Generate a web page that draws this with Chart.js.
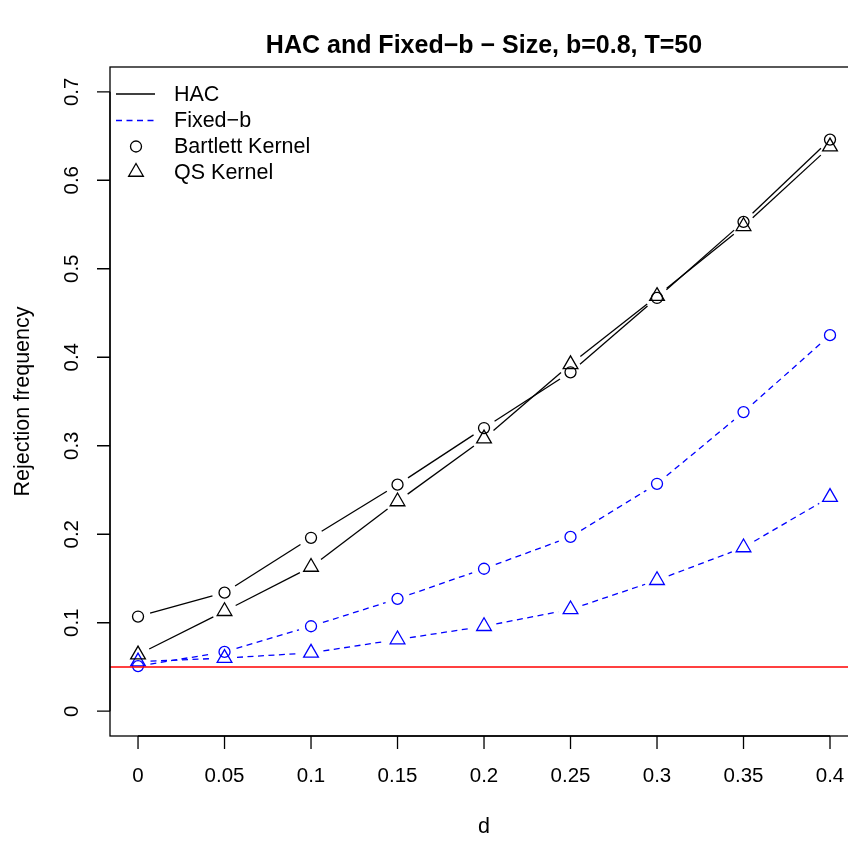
<!DOCTYPE html>
<html>
<head>
<meta charset="utf-8">
<script src="https://cdn.jsdelivr.net/npm/chart.js@4.4.1/dist/chart.umd.min.js"></script>
<style>
  html, body { margin: 0; padding: 0; background: #fff; overflow: hidden; }
  canvas { display: block; }
</style>
</head>
<body>
<canvas id="sizeChart" width="848" height="841"></canvas>
<script>
// values
const dValues = [0, 0.05, 0.1, 0.15, 0.2, 0.25, 0.3, 0.35, 0.4];
const xTickLabels = ["0", "0.05", "0.1", "0.15", "0.2", "0.25", "0.3", "0.35", "0.4"];
const yTicks = [0, 0.1, 0.2, 0.3, 0.4, 0.5, 0.6, 0.7];
const yTickLabels = ["0", "0.1", "0.2", "0.3", "0.4", "0.5", "0.6", "0.7"];

const hacBartlett   = [0.107, 0.134, 0.196, 0.256, 0.320, 0.383, 0.467, 0.553, 0.646];
const hacQS         = [0.064, 0.113, 0.163, 0.237, 0.308, 0.392, 0.469, 0.548, 0.638];
const fixedBartlett = [0.051, 0.067, 0.096, 0.127, 0.161, 0.197, 0.257, 0.338, 0.425];
const fixedQS       = [0.056, 0.060, 0.066, 0.081, 0.096, 0.115, 0.148, 0.185, 0.242];

const nominalSize = 0.05;

const FONT = "'Liberation Sans', Arial, Helvetica, sans-serif";
const BLUE = "#0000ff";
const DASH = [6, 4.5];

const toPoints = ys => dValues.map((d, i) => ({ x: d, y: ys[i] }));

function series(label, ys, color, style, radius, dash) {
    return {
        label: label,
        data: toPoints(ys),
        showLine: false,
        borderColor: color,
        backgroundColor: "transparent",
        pointStyle: style,
        pointRadius: radius,
        pointBorderWidth: 1.3,
        pointHoverRadius: radius,
        lineDash: dash // used by the gapped-lines plugin (R type="b")
    };
}

// lines between points with a gap around each marker, like R's type="b"
const gappedLines = {
    id: "gappedLines",
    beforeDatasetsDraw(chart) {
        const ctx = chart.ctx;
        const gap = 12.5;
        ctx.save();
        ctx.beginPath();
        ctx.rect(chart.chartArea.left, chart.chartArea.top,
                 chart.chartArea.right - chart.chartArea.left,
                 chart.chartArea.bottom - chart.chartArea.top);
        ctx.clip();
        chart.data.datasets.forEach((ds, i) => {
            const pts = chart.getDatasetMeta(i).data;
            ctx.strokeStyle = ds.borderColor;
            ctx.lineWidth = 1.3;
            for (let k = 0; k < pts.length - 1; k++) {
                const a = pts[k], b = pts[k + 1];
                const dx = b.x - a.x, dy = b.y - a.y;
                const len = Math.hypot(dx, dy);
                if (len <= 2 * gap) continue;
                const ux = dx / len, uy = dy / len;
                ctx.setLineDash(ds.lineDash || []);
                ctx.beginPath();
                ctx.moveTo(a.x + ux * gap, a.y + uy * gap);
                ctx.lineTo(b.x - ux * gap, b.y - uy * gap);
                ctx.stroke();
            }
        });
        ctx.restore();
    }
};

// base-graphics style frame, axes, labels, legend and the 0.05 line
const rDecor = {
    id: "rDecor",
    afterDatasetsDraw(chart) {
        const ctx = chart.ctx;
        const area = chart.chartArea;
        const xs = chart.scales.x, ys = chart.scales.y;
        ctx.save();

        // nominal size line
        const yRef = ys.getPixelForValue(nominalSize);
        ctx.strokeStyle = "#ff0000";
        ctx.lineWidth = 1.3;
        ctx.setLineDash([]);
        ctx.beginPath();
        ctx.moveTo(area.left, yRef);
        ctx.lineTo(area.right, yRef);
        ctx.stroke();

        // box (right side falls outside the canvas, as in the original)
        ctx.strokeStyle = "#000";
        ctx.lineWidth = 1.3;
        ctx.strokeRect(area.left, area.top, area.right + 10 - area.left, area.bottom - area.top);

        // x axis
        const tick = 13;
        ctx.beginPath();
        ctx.moveTo(xs.getPixelForValue(dValues[0]), area.bottom);
        ctx.lineTo(xs.getPixelForValue(dValues[dValues.length - 1]), area.bottom);
        dValues.forEach(v => {
            const px = xs.getPixelForValue(v);
            ctx.moveTo(px, area.bottom);
            ctx.lineTo(px, area.bottom + tick);
        });
        // y axis
        ctx.moveTo(area.left, ys.getPixelForValue(yTicks[0]));
        ctx.lineTo(area.left, ys.getPixelForValue(yTicks[yTicks.length - 1]));
        yTicks.forEach(v => {
            const py = ys.getPixelForValue(v);
            ctx.moveTo(area.left, py);
            ctx.lineTo(area.left - tick, py);
        });
        ctx.stroke();

        ctx.fillStyle = "#000";
        ctx.font = "20.5px " + FONT;
        ctx.textAlign = "center";
        ctx.textBaseline = "middle";
        dValues.forEach((v, i) => {
            ctx.fillText(xTickLabels[i], xs.getPixelForValue(v), area.bottom + 40);
        });
        yTicks.forEach((v, i) => {
            ctx.save();
            ctx.translate(area.left - 38, ys.getPixelForValue(v));
            ctx.rotate(-Math.PI / 2);
            ctx.fillText(yTickLabels[i], 0, 0);
            ctx.restore();
        });

        // axis titles
        const xMid = 484;
        ctx.font = "21.5px " + FONT;
        ctx.fillText("d", xMid, 827);
        ctx.save();
        ctx.translate(23, (area.top + area.bottom) / 2);
        ctx.rotate(-Math.PI / 2);
        ctx.fillText("Rejection frequency", 0, 0);
        ctx.restore();

        // title
        ctx.font = "bold 25px " + FONT;
        ctx.fillText("HAC and Fixed\u2212b \u2212 Size, b=0.8, T=50", xMid, 46);

        // legend (no box)
        ctx.font = "21.5px " + FONT;
        ctx.textAlign = "left";
        const lx0 = 116, lx1 = 155, mx = 136, tx = 174;
        const rows = [94, 120.5, 146.5, 172];
        ctx.lineWidth = 1.3;
        ctx.strokeStyle = "#000";
        ctx.beginPath();
        ctx.moveTo(lx0, rows[0]); ctx.lineTo(lx1, rows[0]);
        ctx.stroke();
        ctx.strokeStyle = BLUE;
        ctx.setLineDash(DASH);
        ctx.beginPath();
        ctx.moveTo(lx0, rows[1]); ctx.lineTo(lx1, rows[1]);
        ctx.stroke();
        ctx.setLineDash([]);
        ctx.strokeStyle = "#000";
        ctx.fillStyle = "rgba(0,0,0,0)";
        Chart.helpers.drawPoint(ctx, { pointStyle: "circle", radius: 5.5, borderWidth: 1.3, rotation: 0 }, mx, rows[2]);
        Chart.helpers.drawPoint(ctx, { pointStyle: "triangle", radius: 8.5, borderWidth: 1.3, rotation: 0 }, mx, rows[3]);
        ctx.fillStyle = "#000";
        ["HAC", "Fixed\u2212b", "Bartlett Kernel", "QS Kernel"].forEach((t, i) => {
            ctx.fillText(t, tx, rows[i] + 1);
        });

        ctx.restore();
    }
};

new Chart(document.getElementById("sizeChart"), {
    type: "scatter",
    data: {
        datasets: [
            series("HAC Bartlett", hacBartlett, "#000", "circle", 5.5, []),
            series("HAC QS", hacQS, "#000", "triangle", 8.5, []),
            series("Fixed-b Bartlett", fixedBartlett, BLUE, "circle", 5.5, DASH),
            series("Fixed-b QS", fixedQS, BLUE, "triangle", 8.5, DASH)
        ]
    },
    options: {
        responsive: false,
        animation: false,
        devicePixelRatio: 1,
        layout: { autoPadding: false, padding: { left: 110, right: 0, top: 67, bottom: 105 } },
        plugins: {
            legend: { display: false },
            tooltip: { enabled: false },
            title: { display: false }
        },
        scales: {
            x: { type: "linear", display: false, min: -0.0162, max: 0.4104 },
            y: { type: "linear", display: false, min: -0.028, max: 0.728 }
        }
    },
    plugins: [gappedLines, rDecor]
});
</script>
</body>
</html>
